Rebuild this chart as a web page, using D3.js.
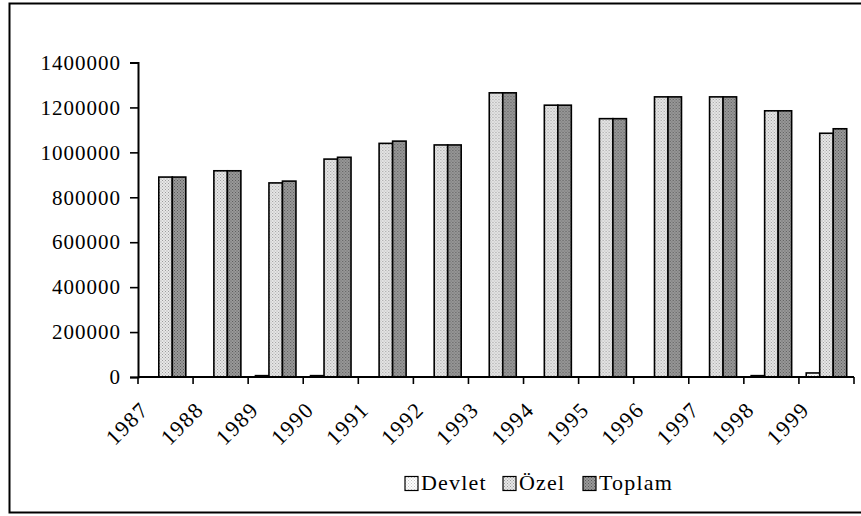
<!DOCTYPE html>
<html lang="tr">
<head>
  <meta charset="UTF-8">
  <title>Devlet / Özel / Toplam</title>
  <script src="https://d3js.org/d3.v7.min.js"></script>
  <style>
    body { margin: 0; background: #fff; }
    text { font-family: "Liberation Serif", "Times New Roman", serif; fill: #000; }
  </style>
</head>
<body>
  <script>
    // chart data
    const years = ["1987", "1988", "1989", "1990", "1991", "1992", "1993",
                   "1994", "1995", "1996", "1997", "1998", "1999"];
    const seriesNames = ["Devlet", "Özel", "Toplam"];
    const devlet = [0, 0, 6000, 6000, 0, 0, 0, 0, 0, 0, 0, 6000, 18000];
    const ozel = [890000, 918000, 864000, 970000, 1040000, 1033000, 1265000,
                  1210000, 1150000, 1247000, 1247000, 1185000, 1085000];
    const toplam = [890000, 918000, 872000, 978000, 1050000, 1033000, 1265000,
                    1210000, 1150000, 1247000, 1247000, 1185000, 1105000];
    const yTicks = [0, 200000, 400000, 600000, 800000, 1000000, 1200000, 1400000];

    const width = 861;
    const height = 516;

    const svg = d3.select("body")
      .append("svg")
      .attr("width", width)
      .attr("height", height);

    // dotted fills like the old office patterns
    const defs = svg.append("defs");
    const patterns = [
      { id: "p0", bg: "#ffffff", dot: "#c4c4c4" },
      { id: "p1", bg: "#e8e8e8", dot: "#9c9c9c" },
      { id: "p2", bg: "#9a9a9a", dot: "#5a5a5a" }
    ];
    patterns.forEach(p => {
      const pat = defs.append("pattern")
        .attr("id", p.id)
        .attr("width", 3)
        .attr("height", 3)
        .attr("patternUnits", "userSpaceOnUse");
      pat.append("rect").attr("width", 3).attr("height", 3).attr("fill", p.bg);
      pat.append("rect").attr("x", 0).attr("y", 0).attr("width", 1).attr("height", 1).attr("fill", p.dot);
      pat.append("rect").attr("x", 1.5).attr("y", 1.5).attr("width", 1).attr("height", 1).attr("fill", p.dot);
    });

    // outer frame
    svg.append("rect")
      .attr("x", 9.5)
      .attr("y", 3.5)
      .attr("width", 860)
      .attr("height", 509)
      .attr("fill", "none")
      .attr("stroke", "#000")
      .attr("stroke-width", 2);

    const x0 = d3.scaleBand().domain(years).range([138, 854]);
    const x1 = d3.scaleBand().domain(seriesNames).range([7.3, 47.8]);
    const y = d3.scaleLinear().domain([0, 1400000]).range([377, 62.5]);

    const rows = years.map((yr, i) => ({
      year: yr,
      values: [devlet[i], ozel[i], toplam[i]]
    }));

    // bars
    const groups = svg.selectAll("g.grp")
      .data(rows)
      .enter()
      .append("g")
      .attr("class", "grp")
      .attr("transform", d => `translate(${x0(d.year)},0)`);

    groups.selectAll("rect")
      .data(d => d.values.map((v, j) => ({ name: seriesNames[j], value: v, j: j })))
      .enter()
      .filter(d => d.value > 0)
      .append("rect")
      .attr("x", d => x1(d.name))
      .attr("y", d => y(d.value))
      .attr("width", x1.bandwidth())
      .attr("height", d => y(0) - y(d.value))
      .attr("fill", d => `url(#p${d.j})`)
      .attr("stroke", "#000")
      .attr("stroke-width", 1.6);

    // y axis
    const yAxis = svg.append("g")
      .attr("transform", "translate(138,0)")
      .call(d3.axisLeft(y).tickValues(yTicks).tickSize(8).tickFormat(d3.format("d")));
    yAxis.select(".domain").attr("stroke-width", 2);
    yAxis.selectAll(".tick line").attr("stroke-width", 1.6);
    yAxis.selectAll("text")
      .attr("x", -17)
      .style("font-size", "21px")
      .style("letter-spacing", "1px");

    // x axis, ticks at category edges
    const xAxis = svg.append("g")
      .attr("transform", "translate(0,377)");
    xAxis.append("line")
      .attr("x1", x0.range()[0])
      .attr("x2", x0.range()[1])
      .attr("stroke", "#000")
      .attr("stroke-width", 2);
    const edges = years.map(d => x0(d)).concat([x0.range()[1]]);
    xAxis.selectAll("line.tk")
      .data(edges)
      .enter()
      .append("line")
      .attr("class", "tk")
      .attr("x1", d => d)
      .attr("x2", d => d)
      .attr("y1", 0)
      .attr("y2", 7)
      .attr("stroke", "#000")
      .attr("stroke-width", 1.6);

    xAxis.selectAll("text")
      .data(years)
      .enter()
      .append("text")
      .attr("transform", d => `translate(${x0(d) + 12},34) rotate(-45)`)
      .attr("text-anchor", "end")
      .style("font-size", "22px")
      .style("letter-spacing", "1.5px")
      .text(d => d);

    // legend
    const legendX = [405, 503, 583];
    const legend = svg.append("g");
    seriesNames.forEach((name, i) => {
      legend.append("rect")
        .attr("x", legendX[i])
        .attr("y", 476.5)
        .attr("width", 13)
        .attr("height", 14)
        .attr("fill", `url(#p${i})`)
        .attr("stroke", "#000")
        .attr("stroke-width", 1.2);
      legend.append("text")
        .attr("x", legendX[i] + 16)
        .attr("y", 490)
        .style("font-size", "22px")
        .style("letter-spacing", "1.2px")
        .text(name);
    });
  </script>
</body>
</html>
